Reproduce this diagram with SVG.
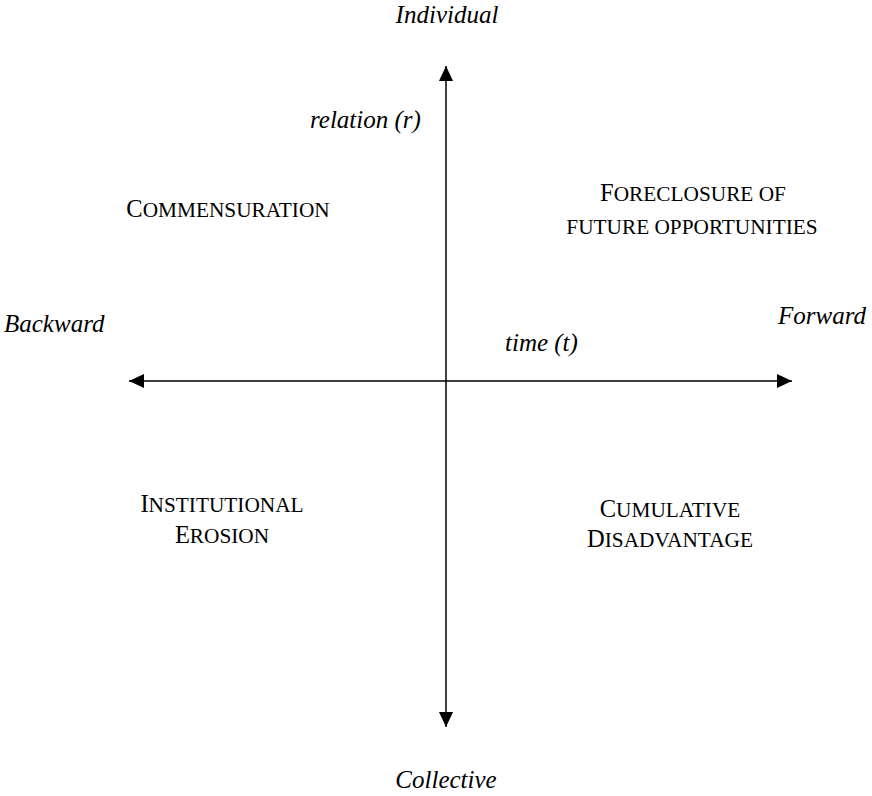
<svg xmlns="http://www.w3.org/2000/svg" width="872" height="796" viewBox="0 0 872 796">
<style>
.ax{stroke:#000;stroke-width:1.5;fill:none}
.it{font-family:"Liberation Serif","Times New Roman",serif;font-style:italic;font-size:25px;fill:#000}
.sc{font-family:"Liberation Serif","Times New Roman",serif;font-size:24.5px;fill:#000}
.sm{font-size:21.3px}
</style>
<defs>
<marker id="ah" markerUnits="userSpaceOnUse" markerWidth="16" markerHeight="16" refX="15" refY="7" orient="auto-start-reverse" viewBox="0 0 16 14">
<path d="M0,0 L15,7 L0,14 z" fill="#000"/>
</marker>
</defs>
<rect width="872" height="796" fill="#fff"/>
<g id="connectors">
<line class="ax" x1="446" y1="66" x2="446" y2="727" marker-start="url(#ah)" marker-end="url(#ah)"/>
<line class="ax" x1="129" y1="381" x2="792" y2="381" marker-start="url(#ah)" marker-end="url(#ah)"/>
</g>
<g id="axis-labels">
<text id="individual" class="it" x="447" y="23" text-anchor="middle">Individual</text>
<text id="collective" class="it" x="446" y="788" text-anchor="middle">Collective</text>
<text id="backward" class="it" x="4" y="332">Backward</text>
<text id="forward" class="it" x="778" y="324">Forward</text>
<text id="relation" class="it" x="310" y="128">relation (r)</text>
<text id="time" class="it" x="505" y="351">time (t)</text>
</g>
<g id="commensuration">
<text class="sc" x="228" y="217" text-anchor="middle">C<tspan class="sm">OMMENSURATION</tspan></text>
</g>
<g id="foreclosure">
<text class="sc" x="693" y="201" text-anchor="middle">F<tspan class="sm">ORECLOSURE OF</tspan></text>
<text class="sc" x="692" y="234" text-anchor="middle"><tspan class="sm">FUTURE OPPORTUNITIES</tspan></text>
</g>
<g id="institutional-erosion">
<text class="sc" x="222" y="512" text-anchor="middle">I<tspan class="sm">NSTITUTIONAL</tspan></text>
<text class="sc" x="222" y="543" text-anchor="middle">E<tspan class="sm">ROSION</tspan></text>
</g>
<g id="cumulative-disadvantage">
<text class="sc" x="670" y="517" text-anchor="middle">C<tspan class="sm">UMULATIVE</tspan></text>
<text class="sc" x="670" y="547" text-anchor="middle">D<tspan class="sm">ISADVANTAGE</tspan></text>
</g>
</svg>
